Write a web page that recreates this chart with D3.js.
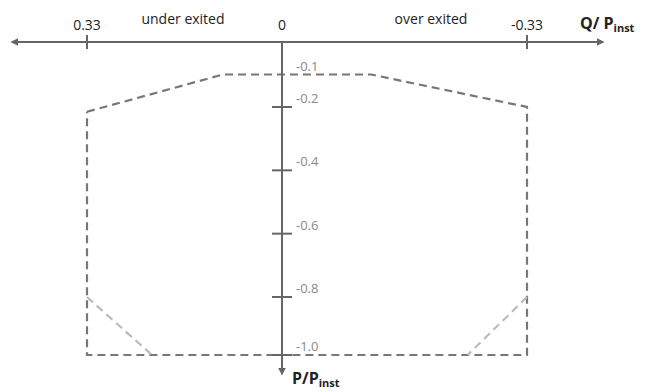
<!DOCTYPE html>
<html>
<head>
<meta charset="utf-8">
<script src="https://cdn.jsdelivr.net/npm/d3@7"></script>
<style>
  body { margin: 0; background: #fff; }
  text { font-family: "Open Sans", sans-serif; }
</style>
</head>
<body>
<div id="chart"></div>
<script>
// Q/Pinst ticks on the horizontal axis (positive = under exited, left side)
var qTicks = [0.33, 0, -0.33];
var qTickLabels = ["0.33", "0", "-0.33"];
// P/Pinst ticks on the vertical axis
var pTicks = [-0.2, -0.4, -0.6, -0.8, -1.0];
var pLabelValues = [-0.1, -0.2, -0.4, -0.6, -0.8, -1.0];
var pLabels = ["-0.1", "-0.2", "-0.4", "-0.6", "-0.8", "-1.0"];

// operating envelope (dark dashed)
var envelopeQ = [0.33, 0.1, -0.12, -0.33, -0.33, 0.33, 0.33];
var envelopeP = [-0.215, -0.1, -0.1, -0.2, -1.0, -1.0, -0.215];

// corner cut-offs (light dashed)
var cutLeftQ = [0.33, 0.22];
var cutLeftP = [-0.8, -1.0];
var cutRightQ = [-0.33, -0.25];
var cutRightP = [-0.8, -1.0];

var width = 651,
    height = 392;

var svg = d3.select("#chart")
  .append("svg")
  .attr("width", width)
  .attr("height", height);

// the original drawing is not quite linear, so a piecewise scale
var x = d3.scaleLinear().domain([0.33, 0, -0.33]).range([87, 282, 527]);
var y = d3.scaleLinear().domain([0, -0.2, -0.8, -1.0]).range([42, 107, 297, 355]);

var axisColor = "#666";
var textColor = "#222";

var defs = svg.append("defs");
defs.append("marker")
  .attr("id", "arrow")
  .attr("viewBox", "0 0 10 10")
  .attr("refX", 8)
  .attr("refY", 5)
  .attr("markerWidth", 4)
  .attr("markerHeight", 4)
  .attr("orient", "auto-start-reverse")
  .append("path")
  .attr("d", "M0,0 L10,5 L0,10 z")
  .attr("fill", axisColor);

function pts(qs, ps) {
  return qs.map(function(q, i) { return [x(q), y(ps[i])]; });
}

var line = d3.line();

// envelope
svg.append("path")
  .attr("d", line(pts(envelopeQ, envelopeP)))
  .attr("fill", "none")
  .attr("stroke", "#777")
  .attr("stroke-width", 2.2)
  .attr("stroke-dasharray", "8,5");

// light cut lines
[[cutLeftQ, cutLeftP], [cutRightQ, cutRightP]].forEach(function(c) {
  svg.append("path")
    .attr("d", line(pts(c[0], c[1])))
    .attr("fill", "none")
    .attr("stroke", "#bbb")
    .attr("stroke-width", 2.2)
    .attr("stroke-dasharray", "8,5");
});

// horizontal axis, arrows both ends
svg.append("line")
  .attr("x1", 12).attr("x2", 603)
  .attr("y1", y(0)).attr("y2", y(0))
  .attr("stroke", axisColor)
  .attr("stroke-width", 2)
  .attr("marker-start", "url(#arrow)")
  .attr("marker-end", "url(#arrow)");

// vertical axis, arrow down
svg.append("line")
  .attr("x1", x(0)).attr("x2", x(0))
  .attr("y1", y(0)).attr("y2", 374)
  .attr("stroke", axisColor)
  .attr("stroke-width", 2)
  .attr("marker-end", "url(#arrow)");

// Q ticks
svg.selectAll(".qtick")
  .data(qTicks.filter(function(d) { return d !== 0; }))
  .enter().append("line")
  .attr("class", "qtick")
  .attr("x1", function(d) { return x(d); })
  .attr("x2", function(d) { return x(d); })
  .attr("y1", y(0) - 7)
  .attr("y2", y(0) + 7)
  .attr("stroke", axisColor)
  .attr("stroke-width", 2);

svg.selectAll(".qlabel")
  .data(qTicks)
  .enter().append("text")
  .attr("class", "qlabel")
  .attr("x", function(d) { return x(d); })
  .attr("y", 30)
  .attr("text-anchor", "middle")
  .attr("font-size", 14)
  .attr("fill", textColor)
  .text(function(d, i) { return qTickLabels[i]; });

// P ticks
svg.selectAll(".ptick")
  .data(pTicks)
  .enter().append("line")
  .attr("class", "ptick")
  .attr("x1", x(0) - 10)
  .attr("x2", x(0) + 10)
  .attr("y1", function(d) { return y(d); })
  .attr("y2", function(d) { return y(d); })
  .attr("stroke", axisColor)
  .attr("stroke-width", 2);

svg.selectAll(".plabel")
  .data(pLabelValues)
  .enter().append("text")
  .attr("class", "plabel")
  .attr("x", x(0) + 14)
  .attr("y", function(d) { return y(d) - 4; })
  .attr("font-size", 13)
  .attr("fill", "#888")
  .text(function(d, i) { return pLabels[i]; });

// region labels
svg.append("text")
  .attr("x", 183).attr("y", 24)
  .attr("text-anchor", "middle")
  .attr("font-size", 14)
  .attr("fill", textColor)
  .text("under exited");

svg.append("text")
  .attr("x", 431).attr("y", 24)
  .attr("text-anchor", "middle")
  .attr("font-size", 14)
  .attr("fill", textColor)
  .text("over exited");

// axis titles
var qt = svg.append("text")
  .attr("x", 580).attr("y", 29)
  .attr("font-size", 16)
  .attr("font-weight", "bold")
  .attr("fill", textColor);
qt.append("tspan").text("Q/ P");
qt.append("tspan").attr("font-size", 11).attr("dy", 3).text("inst");

var pt = svg.append("text")
  .attr("x", 292).attr("y", 384)
  .attr("font-size", 16)
  .attr("font-weight", "bold")
  .attr("fill", textColor);
pt.append("tspan").text("P/P");
pt.append("tspan").attr("font-size", 11).attr("dy", 3).text("inst");
</script>
</body>
</html>
